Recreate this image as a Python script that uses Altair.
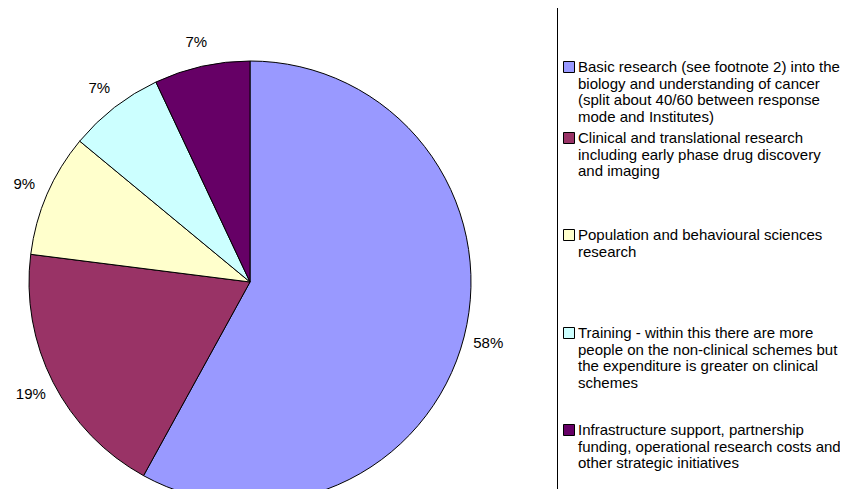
import altair as alt
import pandas as pd

categories = [
    "Basic research",
    "Clinical and translational research",
    "Population and behavioural sciences research",
    "Training",
    "Infrastructure support",
]
values = [58, 19, 9, 7, 7]
labels = ["58%", "19%", "9%", "7%", "7%"]
colors = ["#9999FF", "#993366", "#FFFFCC", "#CCFFFF", "#660066"]
legend_text = [
    "Basic research (see footnote 2) into the\nbiology and understanding of cancer\n(split about 40/60 between response\nmode and Institutes)",
    "Clinical and translational research\nincluding early phase drug discovery\nand imaging",
    "Population and behavioural sciences\nresearch",
    "Training - within this there are more\npeople on the non-clinical schemes but\nthe expenditure is greater on clinical\nschemes",
    "Infrastructure support, partnership\nfunding, operational research costs and\nother strategic initiatives",
]
legend_y = [59, 130, 227, 325, 422]

df = pd.DataFrame({
    "cat": categories,
    "value": values,
    "label": labels,
    "order": list(range(len(categories))),
    "legend": legend_text,
    "ly": legend_y,
    "lyt": [v - 7 for v in legend_y],
})

FONT = "Liberation Sans"
CX, CY, R = 242, 274, 221

base = alt.Chart(df)
color = alt.Color("cat:N", scale=alt.Scale(domain=categories, range=colors), legend=None)

pie = base.mark_arc(outerRadius=R, stroke="black", strokeWidth=1).encode(
    theta=alt.Theta("value:Q", stack=True),
    color=color,
    order=alt.Order("order:Q"),
    x=alt.value(CX),
    y=alt.value(CY),
)

pct = base.mark_text(radius=246, fontSize=15, font=FONT, color="black").encode(
    theta=alt.Theta("value:Q", stack=True),
    order=alt.Order("order:Q"),
    text="label:N",
    x=alt.value(CX),
    y=alt.value(CY),
)

box = alt.Chart(pd.DataFrame({"a": [0]})).mark_rule(color="black", strokeWidth=1).encode(
    x=alt.value(549.5), y=alt.value(0), y2=alt.value(481)
)

squares = base.mark_square(size=121, stroke="black", strokeWidth=1, opacity=1, filled=True).encode(
    x=alt.value(561),
    y=alt.Y("ly:Q", scale=None),
    color=color,
)

ltext = base.mark_text(
    align="left", baseline="top", lineBreak="\n", lineHeight=16.6,
    fontSize=15, font=FONT, color="black"
).encode(
    x=alt.value(570),
    y=alt.Y("lyt:Q", scale=None),
    text="legend:N",
)

chart = alt.layer(pie, pct, box, squares, ltext).properties(
    width=832, height=481,
    autosize=alt.AutoSizeParams(type="none"),
    padding=0,
).configure_view(stroke=None)

chart.save("out.html", embed_options={"renderer": "svg", "actions": False})
